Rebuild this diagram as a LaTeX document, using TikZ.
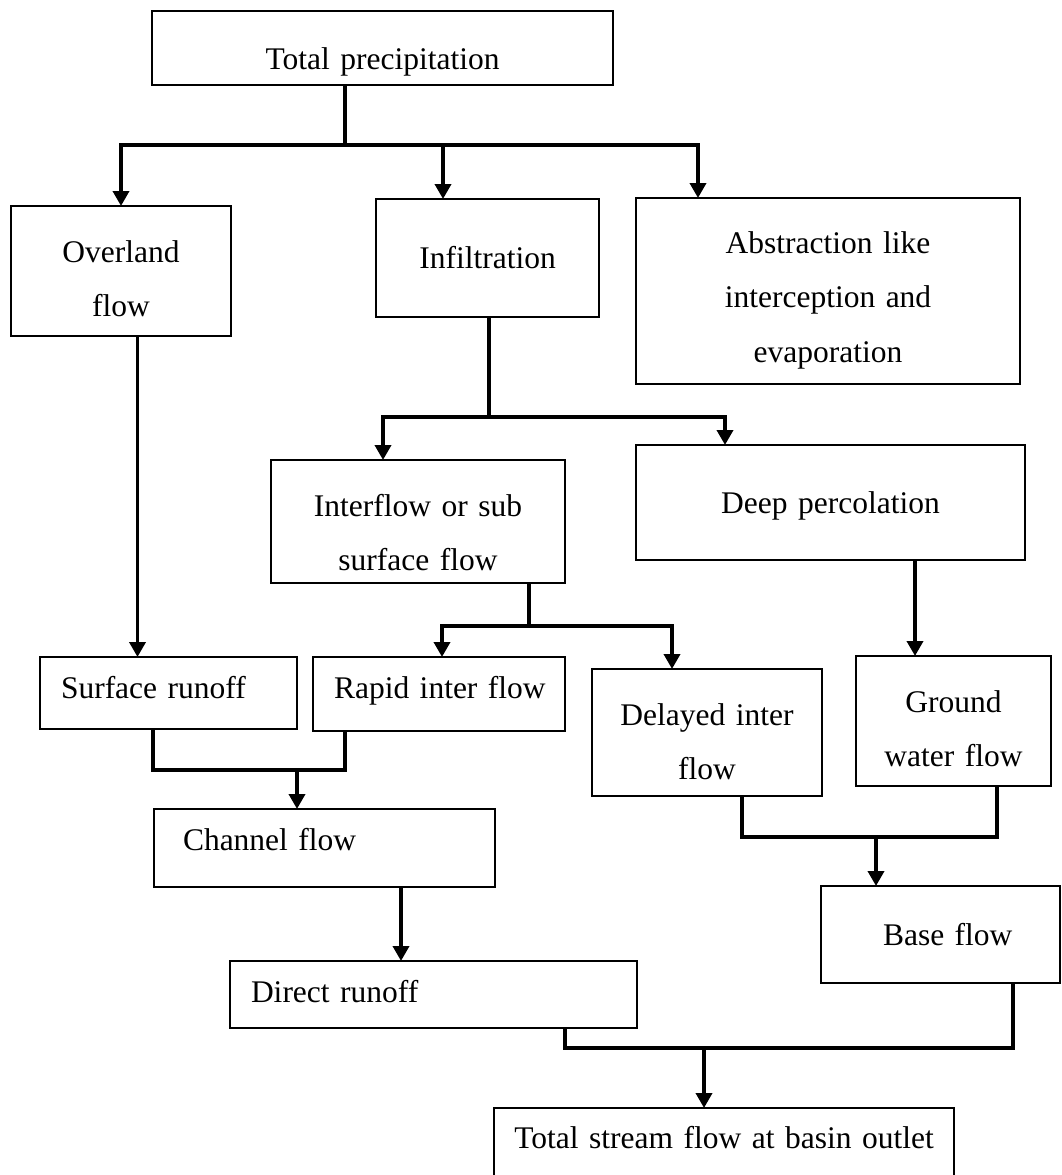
\documentclass[tikz,border=0pt]{standalone}
\usepackage{fontspec}
\setmainfont{Liberation Serif}
\usetikzlibrary{arrows.meta}
\begin{document}
\begin{tikzpicture}[x=1pt,y=-1pt,
  box/.style={draw, line width=2.6pt, inner sep=0pt, outer sep=0pt,
    font=\fontsize{31.5}{54.5}\selectfont},
  conn/.style={line width=3.6pt, line join=miter, line cap=butt},
  arr/.style={conn, -{Triangle[length=15pt,width=16pt]}}]
\fill[white] (0,0) rectangle (1062,1175);
\useasboundingbox (0,0) rectangle (1062,1175);

% boxes
\node[box, minimum width=461pt, minimum height=74pt, text width=451pt, align=center,
  text height=46pt, text depth=4pt] (prec) at (382.5,48) {Total precipitation};
\node[box, minimum width=220pt, minimum height=130pt, text width=210pt, align=center,
  text height=11pt, text depth=29pt] (over) at (121,271) {Overland\\flow};
\node[box, minimum width=223pt, minimum height=118pt, text width=213pt, align=center,
  text height=30pt, text depth=10pt] (infl) at (487.5,258) {Infiltration};
\node[box, minimum width=384pt, minimum height=186pt, text width=374pt, align=center,
  text height=2pt, text depth=78pt] (abst) at (828,291) {Abstraction like\\interception and\\evaporation};
\node[box, minimum width=294pt, minimum height=123pt, text width=284pt, align=center,
  text height=14.5pt, text depth=25.5pt] (intf) at (418,521.5) {Interflow or sub\\surface flow};
\node[box, minimum width=389pt, minimum height=115pt, text width=379pt, align=center,
  text height=30.5pt, text depth=9.5pt] (deep) at (830.5,502.5) {Deep percolation};
\node[box, minimum width=257pt, minimum height=72pt, text width=215pt, align=left,
  text height=25pt, text depth=15pt] (surf) at (168.5,693) {\mbox{Surface runoff}};
\node[box, minimum width=252pt, minimum height=74pt, text width=210pt, align=left,
  text height=24pt, text depth=16pt] (rapd) at (439,694) {\mbox{Rapid inter flow}};
\node[box, minimum width=230pt, minimum height=127pt, text width=220pt, align=center,
  text height=12.5pt, text depth=27.5pt] (dely) at (707,732.5) {Delayed inter\\flow};
\node[box, minimum width=195pt, minimum height=130pt, text width=185pt, align=center,
  text height=11pt, text depth=29pt] (grnd) at (953.5,721) {Ground\\water flow};
\node[box, minimum width=341pt, minimum height=78pt, text width=283pt, align=left,
  text height=22pt, text depth=18pt] (chan) at (324.5,848) {\mbox{Channel flow}};
\node[box, minimum width=407pt, minimum height=67pt, text width=365pt, align=left,
  text height=27.5pt, text depth=12.5pt] (dirr) at (433.5,994.5) {\mbox{Direct runoff}};
\node[box, minimum width=239pt, minimum height=97pt, text width=115pt, align=left,
  text height=30.5pt, text depth=9.5pt] (base) at (940.5,934.5) {\mbox{Base flow}};
\node[box, minimum width=460pt, minimum height=72pt, text width=450pt, align=center,
  text height=24pt, text depth=16pt] (tots) at (724,1144) {Total stream flow at basin outlet};

% junction coordinates
\coordinate (b1) at (345,145);
\coordinate (b1m) at (443,145);
\coordinate (b1r) at (698,145);
\coordinate (x2) at (137.5,400);
\coordinate (b3) at (489,417);
\coordinate (b3l) at (383,417);
\coordinate (b3r) at (725,417);
\coordinate (b4) at (529,626);
\coordinate (b4l) at (442,626);
\coordinate (b4r) at (672,626);
\coordinate (x5) at (915,600);
\coordinate (b6l) at (153,770);
\coordinate (b6m) at (297,770);
\coordinate (b6r) at (345,770);
\coordinate (b7l) at (742,837);
\coordinate (b7m) at (876,837);
\coordinate (b7r) at (997,837);
\coordinate (x8) at (401,920);
\coordinate (b9l) at (565,1048);
\coordinate (b9m) at (704,1048);
\coordinate (b9r) at (1013,1048);

% connectors
\draw[conn] (prec.south -| b1) -- (b1);
\draw[arr] (b1) -| (over.north);
\draw[arr] (b1) -| (abst.north -| b1r);
\draw[arr] (b1m) -- (infl.north -| b1m);

\draw[arr] (over.south -| x2) -- (surf.north -| x2);

\draw[conn] (infl.south -| b3) -- (b3);
\draw[arr] (b3) -| (intf.north -| b3l);
\draw[arr] (b3) -| (deep.north -| b3r);

\draw[conn] (intf.south -| b4) -- (b4);
\draw[arr] (b4) -| (rapd.north -| b4l);
\draw[arr] (b4) -| (dely.north -| b4r);

\draw[arr] (deep.south -| x5) -- (grnd.north -| x5);

\draw[conn] (surf.south -| b6l) |- (b6r) -- (rapd.south -| b6r);
\draw[arr] (b6m) -- (chan.north -| b6m);

\draw[conn] (dely.south -| b7l) |- (b7r) -- (grnd.south -| b7r);
\draw[arr] (b7m) -- (base.north -| b7m);

\draw[arr] (chan.south -| x8) -- (dirr.north -| x8);

\draw[conn] (dirr.south -| b9l) |- (b9r) -- (base.south -| b9r);
\draw[arr] (b9m) -- (tots.north -| b9m);
\end{tikzpicture}
\end{document}
